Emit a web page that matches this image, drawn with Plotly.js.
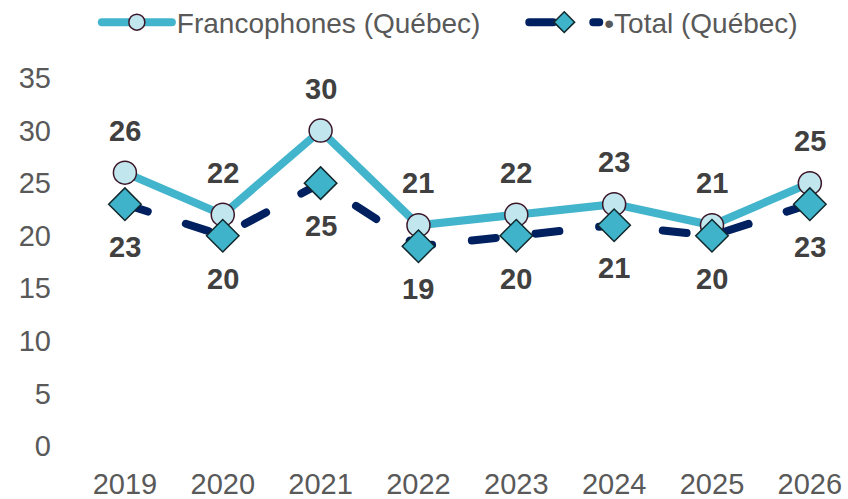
<!DOCTYPE html>
<html><head><meta charset="utf-8">
<script src="https://cdn.plot.ly/plotly-3.0.1.min.js"></script>
<style>
html,body{margin:0;padding:0;background:#fff;}
#chart{width:848px;height:499px;}
.js-line{stroke-linecap:round;}
</style>
</head><body><div id="chart"></div>
<script>
const years = ['2019','2020','2021','2022','2023','2024','2025','2026'];
const francophones = [26, 22, 30, 21, 22, 23, 21, 25];
const total = [23, 20, 25, 19, 20, 21, 20, 23];
const yTicks = [0, 5, 10, 15, 20, 25, 30, 35];
const seriesNames = ['Francophones (Québec)\u00a0\u00a0\u00a0\u00a0\u00a0', '•Total (Québec)'];

const font = 'Liberation Sans, Arial, sans-serif';

const traces = [
  {
    x: years, y: francophones, type: 'scatter', mode: 'lines+markers',
    name: seriesNames[0],
    line: {color: '#42B4CB', width: 8},
    marker: {symbol: 'circle', size: 23, color: '#C2E6EE', line: {color: '#3A1628', width: 1.5}},
    hoverinfo: 'skip'
  },
  {
    x: years, y: total, type: 'scatter', mode: 'lines+markers',
    name: seriesNames[1],
    line: {color: '#002060', width: 8, dash: '24px,40px'},
    marker: {symbol: 'diamond', size: 25, color: '#3FB3CA', line: {color: '#10282C', width: 1.5}},
    hoverinfo: 'skip'
  }
];

const labelFont = {family: font, size: 29, color: '#404040', weight: 700};
const annotations = [];
for (let i = 0; i < years.length; i++) {
  annotations.push({xref: 'x', yref: 'y', x: i, y: francophones[i], text: String(francophones[i]),
    showarrow: false, yshift: 42, font: labelFont});
  annotations.push({xref: 'x', yref: 'y', x: i, y: total[i], text: String(total[i]),
    showarrow: false, yshift: -43, font: labelFont});
}

const layout = {
  width: 848, height: 499,
  margin: {l: 76, r: 0, t: 78, b: 53},
  paper_bgcolor: '#fff', plot_bgcolor: '#fff',
  font: {family: font, size: 28, color: '#595959'},
  showlegend: true,
  legend: {orientation: 'h', x: 0.027, xanchor: 'left', yref: 'container', y: 0.955, yanchor: 'middle',
    font: {family: font, size: 28, color: '#595959'}, itemwidth: 70, tracegroupgap: 0},
  xaxis: {type: 'category', range: [-0.5, 7.39], showgrid: false, zeroline: false, showline: false,
    ticks: '', ticklabelstandoff: 18, tickfont: {size: 29, color: '#595959'}},
  yaxis: {range: [0, 35], tickvals: yTicks, ticktext: yTicks.map(String), showgrid: false,
    zeroline: false, showline: false, ticks: '', ticklabelstandoff: 24,
    tickfont: {size: 29, color: '#595959'}},
  annotations: annotations
};

Plotly.newPlot('chart', traces, layout, {displayModeBar: false, staticPlot: true});
</script>
</body></html>
